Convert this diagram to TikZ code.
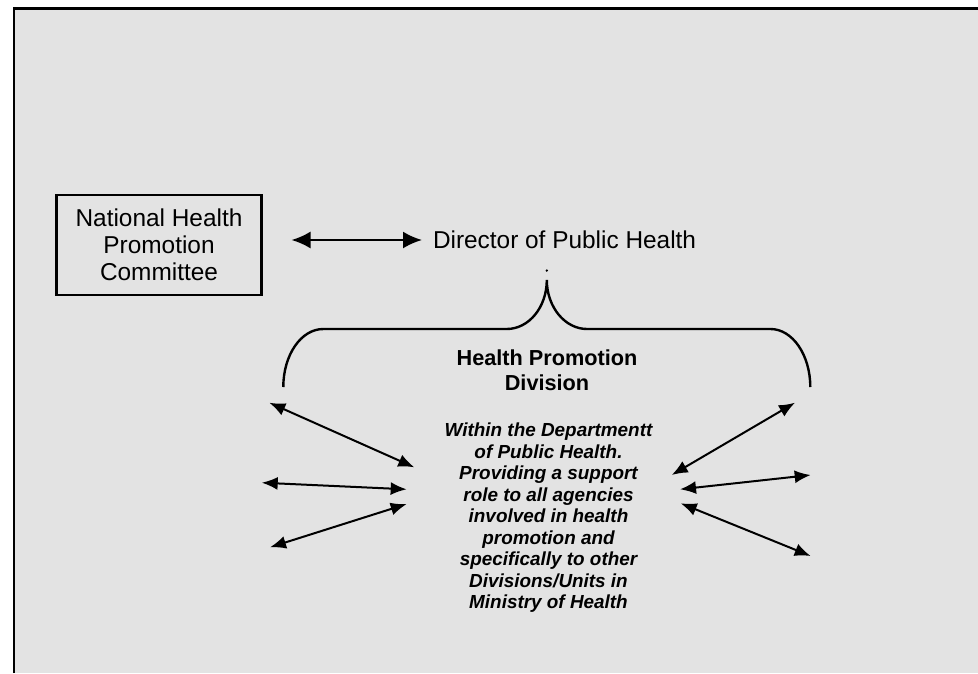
\documentclass[tikz,border=0pt]{standalone}
\usepackage{fontspec}
\setmainfont{Liberation Sans}
\usetikzlibrary{arrows.meta}
\definecolor{panel}{RGB}{227,227,227}

\begin{document}
\begin{tikzpicture}[x=1pt,y=-1pt]
\tikzset{ >={Latex[length=16pt,width=13pt]}, inner sep=0pt, outer sep=0pt,
  link/.style={<->, line width=2pt},
  bigtext/.style={font=\fontsize{24.4}{27}\selectfont, align=center},
}
\useasboundingbox (0,0) rectangle (978,673);
%\draw [lightgray, dashed](0,0) grid[step=50] (978,673);

\fill [panel] (13.5,8.7) rectangle (978,673);
\draw [line width=2.6pt] (13.8,673) -- (13.8,8.7) -- (978,8.7);

\node [draw, line width=2.5pt, minimum width=205pt, minimum height=100pt, bigtext] (C) at (159,245) {National Health\\Promotion\\Committee};
\node [bigtext, anchor=west] (D) at (433,240) {Director of Public Health};

\draw [<->, line width=2.2pt, >={Latex[length=19pt,width=17pt]}] ([xshift=30pt]C.east |- D.west) -- ([xshift=-11pt]D.west);

% the brace
\draw [line width=2.4pt] (283.3,387) .. controls (283.3,355) and (301,329) .. (323.3,329)
  -- (506.7,329) .. controls (529,329) and (546.8,307) .. (546.8,280)
  .. controls (546.8,307) and (565,329) .. (587,329)
  -- (770.5,329) .. controls (792.5,329) and (810.3,355) .. (810.3,387);
\fill (546.8,270.5) circle (1.3pt);

\node [font=\bfseries\fontsize{21.7}{25}\selectfont, align=center] (H) at (547,370) {Health Promotion\\Division};
\node [font=\bfseries\itshape\fontsize{18.9}{21.5}\selectfont, align=center] (W) at (548.5,518) {Within the Departmentt\\of Public Health.\\Providing a support\\role to all agencies\\involved in health\\promotion and\\specifically to other\\Divisions/Units in\\Ministry of Health};

\coordinate (A1) at (269.3,402.7);  \coordinate (A1') at (414.3,467.3);
\coordinate (A2) at (261.7,482.7);  \coordinate (A2') at (406.7,489.3);
\coordinate (A3) at (270.0,547.3);  \coordinate (A3') at (406.7,504.0);
\coordinate (B1) at (795.0,402.7);  \coordinate (B1') at (671.7,475.0);
\coordinate (B2) at (810.7,475.0);  \coordinate (B2') at (680.0,489.3);
\coordinate (B3) at (810.7,556.0);  \coordinate (B3') at (680.7,503.3);

\draw [link] (A1) -- (A1');
\draw [link] (A2) -- (A2');
\draw [link] (A3) -- (A3');
\draw [link] (B1) -- (B1');
\draw [link] (B2) -- (B2');
\draw [link] (B3) -- (B3');

\end{tikzpicture}
\end{document}
